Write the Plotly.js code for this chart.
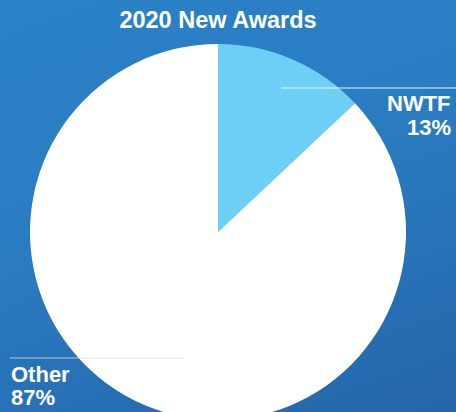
<!DOCTYPE html>
<html>
<head>
<meta charset="utf-8">
<script src="https://cdn.plot.ly/plotly-3.0.1.min.js"></script>
<style>
html,body{margin:0;padding:0;overflow:hidden;width:456px;height:412px;}
body{background:linear-gradient(160deg,#2b82c7 0%,#2a7cc1 45%,#2465aa 100%);}
#chart{width:456px;height:440px;}
</style>
</head>
<body>
<div id="chart"></div>
<script>
const labels = ["NWTF", "Other"];
const values = [13, 87];
const colors = ["#6dcff6", "#ffffff"];
const chartTitle = "2020 New Awards";

const H = 440, W = 456;
const py = p => (H - p) / H;
const px = p => p / W;
const total = values.reduce((a, b) => a + b, 0);
const pct = values.map(v => Math.round(v / total * 100) + "%");

const font = {family: "Liberation Sans, Arial, sans-serif", size: 22, color: "#ffffff"};

const data = [{
  type: "pie",
  labels: labels,
  values: values,
  marker: {colors: colors, line: {width: 0}},
  sort: false,
  direction: "clockwise",
  rotation: 0,
  textinfo: "none",
  hoverinfo: "none",
  showlegend: false,
  domain: {x: [px(30), px(406)], y: [py(420), py(44)]}
}];

const layout = {
  width: W, height: H,
  margin: {l: 0, r: 0, t: 0, b: 0},
  paper_bgcolor: "rgba(0,0,0,0)",
  plot_bgcolor: "rgba(0,0,0,0)",
  title: {text: "<b>" + chartTitle + "</b>", font: {family: "Liberation Sans, Arial, sans-serif", size: 23.5, color: "#ffffff"},
          xref: "container", x: px(218), xanchor: "center", yref: "container", y: py(20), yanchor: "middle"},
  shapes: [
    {type: "line", xref: "paper", yref: "paper", x0: px(281), x1: px(456), y0: py(88), y1: py(88), line: {color: "rgba(255,255,255,0.9)", width: 1}},
    {type: "line", xref: "paper", yref: "paper", x0: px(10), x1: px(183), y0: py(358), y1: py(358), line: {color: "rgba(215,220,228,0.8)", width: 1}}
  ],
  annotations: [
    {xref: "paper", yref: "paper", x: px(453), y: py(104), xanchor: "right", yanchor: "middle", showarrow: false, text: "<b>" + labels[0] + "</b>", font: font},
    {xref: "paper", yref: "paper", x: px(453), y: py(127), xanchor: "right", yanchor: "middle", showarrow: false, text: "<b>" + pct[0] + "</b>", font: font},
    {xref: "paper", yref: "paper", x: px(9), y: py(374), xanchor: "left", yanchor: "middle", showarrow: false, text: "<b>" + labels[1] + "</b>", font: font},
    {xref: "paper", yref: "paper", x: px(9), y: py(397), xanchor: "left", yanchor: "middle", showarrow: false, text: "<b>" + pct[1] + "</b>", font: font}
  ]
};

Plotly.newPlot("chart", data, layout, {displayModeBar: false, staticPlot: true});
</script>
</body>
</html>
